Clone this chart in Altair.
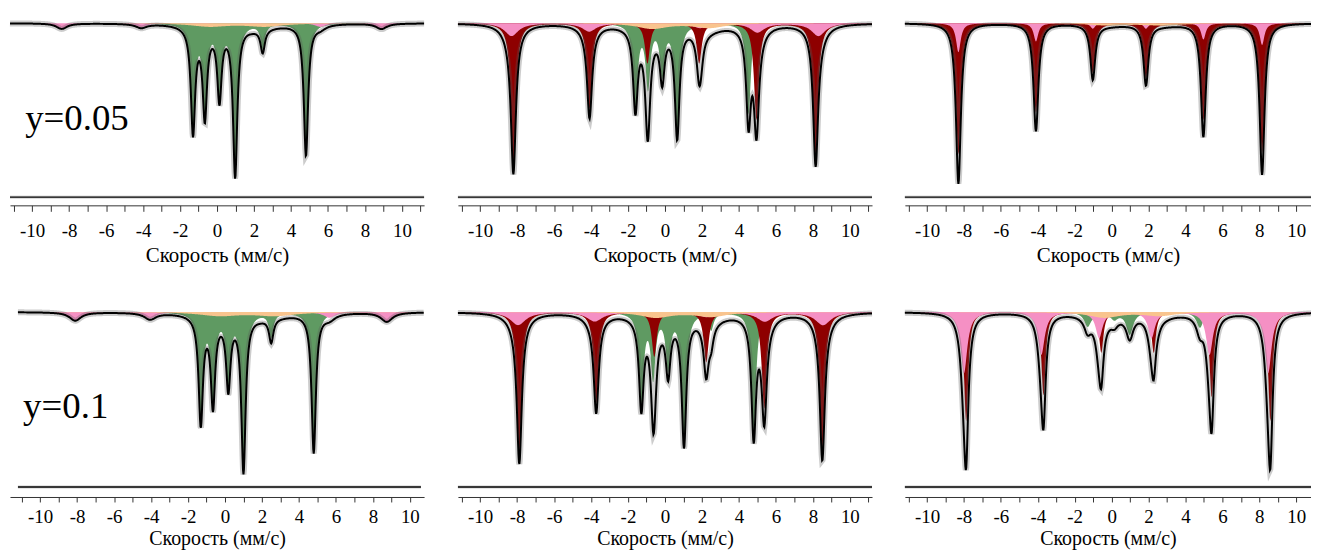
import numpy as np
import pandas as pd
import altair as alt

FONT = "Liberation Serif"
GREEN = "#5f9a62"
RED = "#8e0000"
PINK = "#f590c4"
PEACH = "#f9c48e"

# ---------------- read-off spectral line parameters ----------------
# Panel 1 : y = 0.05, left column
p1_green_pos = [-1.30, -0.66, 0.13, 0.98, 2.47, 4.81]
p1_green_dep = [0.58, 0.48, 0.39, 0.82, 0.13, 0.72]
p1_green_hw = 0.14
p1_pink_pos = [-8.40, -4.10, -0.90, 1.90, 5.60, 8.90]
p1_pink_dep = [0.030, 0.022, 0.010, 0.010, 0.020, 0.030]
p1_pink_hw = 0.35
p1_peach_pos = [-0.40, 2.60]
p1_peach_dep = [0.018, 0.018]
p1_peach_hw = 1.2

# Panel 2 : y = 0.05, middle column
p2_red_pos = [-8.20, -4.08, -0.95, 1.85, 4.95, 8.15]
p2_red_dep = [0.76, 0.47, 0.22, 0.22, 0.53, 0.72]
p2_red_hw = 0.16
p2_green_pos = [-1.60, -0.92, -0.15, 0.66, 1.95, 4.52]
p2_green_dep = [0.44, 0.34, 0.27, 0.60, 0.08, 0.50]
p2_green_hw = 0.15
p2_pink_pos = [-8.30, -4.10, -1.00, 1.90, 5.00, 8.30]
p2_pink_dep = [0.070, 0.045, 0.025, 0.025, 0.050, 0.070]
p2_pink_hw = 0.45
p2_peach_pos = [-0.70, 2.40]
p2_peach_dep = [0.030, 0.025]
p2_peach_hw = 1.0

# Panel 3 : y = 0.05, right column
p3_red_pos = [-8.30, -4.10, -1.02, 1.86, 4.97, 8.15]
p3_red_dep = [0.72, 0.49, 0.27, 0.30, 0.53, 0.71]
p3_red_hw = 0.16
p3_pink_pos = [-8.30, -4.10, -1.02, 1.86, 4.97, 8.15]
p3_pink_dep = [0.16, 0.10, 0.03, 0.03, 0.09, 0.12]
p3_pink_hw = 0.15
p3_peach_pos = [-0.20, 2.80]
p3_peach_dep = [0.012, 0.012]
p3_peach_hw = 1.2

# Panel 4 : y = 0.1, left column
p4_green_pos = [-1.31, -0.65, 0.18, 1.00, 2.50, 4.80]
p4_green_dep = [0.58, 0.47, 0.38, 0.84, 0.13, 0.75]
p4_green_hw = 0.14
p4_pink_pos = [-8.10, -4.05, -0.90, 1.90, 5.65, 8.75]
p4_pink_dep = [0.045, 0.035, 0.010, 0.010, 0.030, 0.050]
p4_pink_hw = 0.38
p4_peach_pos = [-0.30, 2.70]
p4_peach_dep = [0.020, 0.020]
p4_peach_hw = 1.3

# Panel 5 : y = 0.1, middle column
p5_red_pos = [-7.88, -3.72, -0.58, 2.23, 5.37, 8.51]
p5_red_dep = [0.75, 0.49, 0.24, 0.27, 0.52, 0.73]
p5_red_hw = 0.16
p5_green_pos = [-1.28, -0.64, 0.17, 1.03, 2.50, 4.80]
p5_green_dep = [0.48, 0.34, 0.29, 0.69, 0.09, 0.64]
p5_green_hw = 0.15
p5_pink_pos = [-7.95, -3.80, -0.60, 2.25, 5.40, 8.55]
p5_pink_dep = [0.070, 0.050, 0.025, 0.025, 0.050, 0.070]
p5_pink_hw = 0.5
p5_peach_pos = [-0.50, 2.50]
p5_peach_dep = [0.030, 0.025]
p5_peach_hw = 1.0

# Panel 6 : y = 0.1, right column
p6_pink_pos = [-8.00, -3.81, -0.68, 2.16, 5.30, 8.48]
p6_pink_dep = [0.33, 0.23, 0.14, 0.14, 0.23, 0.33]
p6_pink_hw = 0.22
p6_red_pos = [-7.88, -3.69, -0.56, 2.28, 5.42, 8.60]
p6_red_dep = [0.59, 0.45, 0.22, 0.22, 0.46, 0.59]
p6_red_hw = 0.14
p6_green_pos = [-1.30, -0.62, 0.15, 0.98, 2.50, 4.78]
p6_green_dep = [0.075, 0.040, 0.035, 0.120, 0.020, 0.085]
p6_green_hw = 0.22
p6_peach_pos = [-0.40, 2.60]
p6_peach_dep = [0.030, 0.020]
p6_peach_hw = 1.0

# residual baselines (level of the difference curve)
residual_level = [-0.955, -0.946]
labels_text = ["y=0.05", "y=0.1"]
label_x = [-10.38, -10.92]
label_y = [-0.588, -0.574]

tick_values_full = list(range(-11, 12))
tick_values_right = list(range(-11, 11))


def lorentz(x, pos, dep, hw):
    xx = np.asarray(x)[:, None]
    p = np.asarray(pos)[None, :]
    d = np.asarray(dep)[None, :]
    return -(d / (1.0 + ((xx - p) / hw) ** 2)).sum(axis=1)


ORDER = [("green", GREEN), ("red", RED), ("pink", PINK), ("peach", PEACH)]


def make_axis(row):
    if row == 0:
        ts, lp, tp, tfs = 6, 10, 4, 21
    else:
        ts, lp, tp, tfs = 5, 6, 2, 20
    return dict(
        labelExpr="datum.value % 2 == 0 ? '' + datum.value : ''",
        tickSize=ts, labelPadding=lp, labelFont=FONT, labelFontSize=19,
        labelColor="black", title="Скорость (мм/с)", titleFont=FONT,
        titleFontSize=tfs, titleFontWeight="normal", titleColor="black",
        titlePadding=tp, domainColor="#333333", tickColor="#333333",
        grid=False, labelFlush=False, labelOverlap=False,
    )


def panel(spec, dom, width, height, row, ticks, text_idx=None):
    x = np.round(np.arange(max(dom[0], -11.2), dom[1] + 1e-9, 0.025), 3)
    axis = alt.Axis(values=ticks, **make_axis(row))
    xenc = alt.X("x:Q", scale=alt.Scale(domain=dom, nice=False, zero=False), axis=axis)
    yscale = alt.Scale(domain=[-1.0, 0.06], nice=False, zero=False)
    curves = {}
    for name, _ in ORDER:
        if name in spec:
            pos, dep, hw = spec[name]
            curves[name] = lorentz(x, pos, dep, hw)
    total = sum(curves.values())
    layers = []
    for name, color in ORDER:
        if name in curves:
            df = pd.DataFrame({"x": x, "y": np.round(curves[name], 4)})
            layers.append(
                alt.Chart(df).mark_area(color=color, opacity=1, strokeWidth=0).encode(
                    x=xenc, y=alt.Y("y:Q", scale=yscale, axis=None), y2=alt.datum(0)
                )
            )
    dft = pd.DataFrame({"x": x, "y": np.round(total, 4)})
    layers.append(
        alt.Chart(dft).mark_line(color="#555555", strokeWidth=6, opacity=0.3).encode(
            x=xenc, y=alt.Y("y:Q", scale=yscale, axis=None))
    )
    layers.append(
        alt.Chart(dft).mark_line(color="black", strokeWidth=2).encode(
            x=xenc, y=alt.Y("y:Q", scale=yscale, axis=None))
    )
    dfr = pd.DataFrame({"x": x[::8], "y": residual_level[row]})
    layers.append(
        alt.Chart(dfr).mark_line(color="#555555", strokeWidth=3.5, opacity=0.2).encode(
            x=xenc, y=alt.Y("y:Q", scale=yscale, axis=None))
    )
    layers.append(
        alt.Chart(dfr).mark_line(color="black", strokeWidth=1.3).encode(
            x=xenc, y=alt.Y("y:Q", scale=yscale, axis=None))
    )
    if text_idx is not None:
        dtx = pd.DataFrame({"x": [label_x[text_idx]], "y": [label_y[text_idx]],
                            "t": [labels_text[text_idx]]})
        layers.append(
            alt.Chart(dtx).mark_text(font=FONT, fontSize=37, align="left",
                                     baseline="alphabetic", color="black").encode(
                x=xenc, y=alt.Y("y:Q", scale=yscale, axis=None), text="t:N")
        )
    return alt.layer(*layers).properties(width=width, height=height)


def spacer(w, h):
    return alt.Chart(pd.DataFrame({"s": [0]})).mark_point(opacity=0, size=1).encode(
        x=alt.value(1), y=alt.value(1)).properties(width=w, height=h)


P1 = panel({"green": (p1_green_pos, p1_green_dep, p1_green_hw),
            "pink": (p1_pink_pos, p1_pink_dep, p1_pink_hw),
            "peach": (p1_peach_pos, p1_peach_dep, p1_peach_hw)},
           [-11.2, 11.2], 416, 194, 0, tick_values_full, 0)
P2 = panel({"green": (p2_green_pos, p2_green_dep, p2_green_hw),
            "red": (p2_red_pos, p2_red_dep, p2_red_hw),
            "pink": (p2_pink_pos, p2_pink_dep, p2_pink_hw),
            "peach": (p2_peach_pos, p2_peach_dep, p2_peach_hw)},
           [-11.2, 11.2], 416, 194, 0, tick_values_full)
P3 = panel({"red": (p3_red_pos, p3_red_dep, p3_red_hw),
            "pink": (p3_pink_pos, p3_pink_dep, p3_pink_hw),
            "peach": (p3_peach_pos, p3_peach_dep, p3_peach_hw)},
           [-11.2, 10.8], 408, 194, 0, tick_values_right)
P4 = panel({"green": (p4_green_pos, p4_green_dep, p4_green_hw),
            "pink": (p4_pink_pos, p4_pink_dep, p4_pink_hw),
            "peach": (p4_peach_pos, p4_peach_dep, p4_peach_hw)},
           [-11.63, 10.77], 416, 197, 1, tick_values_right, 1)
P5 = panel({"green": (p5_green_pos, p5_green_dep, p5_green_hw),
            "red": (p5_red_pos, p5_red_dep, p5_red_hw),
            "pink": (p5_pink_pos, p5_pink_dep, p5_pink_hw),
            "peach": (p5_peach_pos, p5_peach_dep, p5_peach_hw)},
           [-11.2, 11.2], 416, 197, 1, tick_values_full)
P6 = panel({"green": (p6_green_pos, p6_green_dep, p6_green_hw),
            "red": (p6_red_pos, p6_red_dep, p6_red_hw),
            "pink": (p6_pink_pos, p6_pink_dep, p6_pink_hw),
            "peach": (p6_peach_pos, p6_peach_dep, p6_peach_hw)},
           [-11.2, 10.8], 408, 197, 1, tick_values_right)

chart = alt.concat(
    P1, spacer(34, 194), P2, spacer(33, 194), P3,
    P4, spacer(34, 197), P5, spacer(33, 197), P6,
    columns=5, spacing={"row": 96, "column": 0}, bounds="flush",
).properties(
    autosize=alt.AutoSizeParams(type="none"),
    padding={"left": 2, "top": 3, "right": 1307, "bottom": 540},
).configure_view(stroke=None)

chart.save("out.html", embed_options={"renderer": "svg", "actions": False})
